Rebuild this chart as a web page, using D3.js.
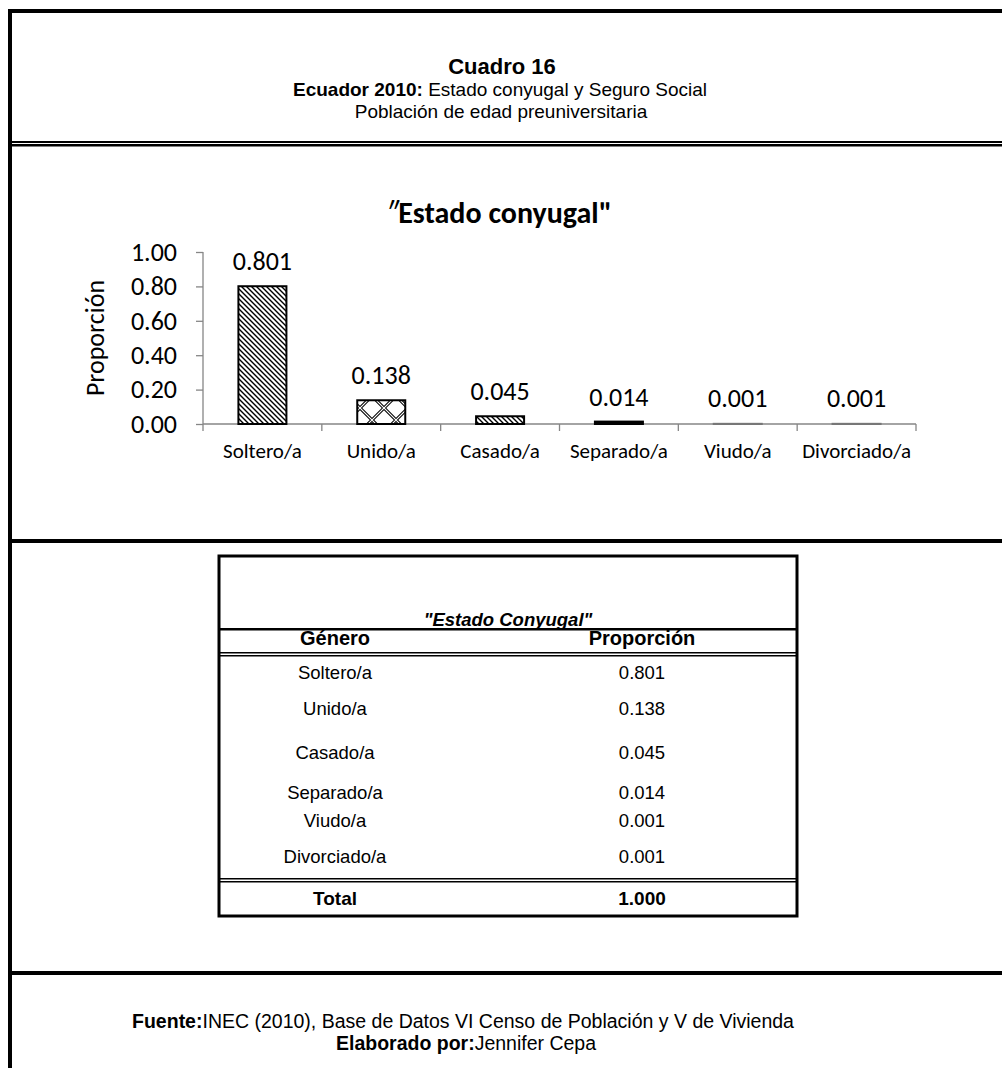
<!DOCTYPE html>
<html><head><meta charset="utf-8">
<script src="https://cdn.jsdelivr.net/npm/d3@7"></script>
<style>
html,body{margin:0;padding:0;background:#fff;}
svg{display:block;}
</style></head>
<body>
<svg id="c" width="1002" height="1068"></svg>
<script>
// ---- data ----
const categories = ["Soltero/a","Unido/a","Casado/a","Separado/a","Viudo/a","Divorciado/a"];
const proportions = [0.801,0.138,0.045,0.014,0.001,0.001];
const labelsText = ["0.801","0.138","0.045","0.014","0.001","0.001"];
const yTicks = [0,0.2,0.4,0.6,0.8,1.0];
const tableRowLabels = ["Soltero/a","Unido/a","Casado/a","Separado/a","Viudo/a","Divorciado/a"];
const tableRowValues = ["0.801","0.138","0.045","0.014","0.001","0.001"];
const tableTotal = ["Total","1.000"];
// styles (separate from data)
const barFills = ["url(#diag)","url(#lattice)","url(#diag)","#000","#000","#000"];

const svg = d3.select("#c");
const defs = svg.append("defs");
const pd = defs.append("pattern").attr("id","diag").attr("patternUnits","userSpaceOnUse")
  .attr("width",5).attr("height",5);
pd.append("rect").attr("width",5).attr("height",5).attr("fill","#fff");
pd.append("path").attr("d","M-1,-1L6,6M-1,4L1,6M4,-1L6,1").attr("stroke","#000").attr("stroke-width",1.4);
const pl = defs.append("pattern").attr("id","lattice").attr("patternUnits","userSpaceOnUse")
  .attr("width",24).attr("height",24).attr("x",0).attr("y",0);
pl.append("rect").attr("width",24).attr("height",24).attr("fill","#fff");
pl.append("path").attr("d","M0,0L24,24M24,0L0,24").attr("stroke","#000").attr("stroke-width",3.2);
pl.append("path").attr("d","M0,0L24,24M24,0L0,24").attr("stroke","#fff").attr("stroke-width",1.2);

const AR = "'Liberation Sans', Arial, sans-serif";
const CAL = "Carlito, Lato, sans-serif";

// ---- frame ----
svg.append("rect").attr("x",8).attr("y",9).attr("width",4).attr("height",1059).attr("fill","#000");
svg.append("rect").attr("x",8).attr("y",9).attr("width",994).attr("height",4).attr("fill","#000");
svg.append("rect").attr("x",11).attr("y",141).attr("width",991).attr("height",2).attr("fill","#000");
svg.append("rect").attr("x",11).attr("y",144).attr("width",991).attr("height",2.5).attr("fill","#000");
svg.append("rect").attr("x",8).attr("y",539).attr("width",994).attr("height",4).attr("fill","#000");
svg.append("rect").attr("x",8).attr("y",971).attr("width",994).attr("height",4).attr("fill","#000");

// ---- header ----
svg.append("text").attr("x",502).attr("y",74).attr("text-anchor","middle")
  .attr("font-family",AR).attr("font-weight","bold").attr("font-size",22).text("Cuadro 16");
const t2 = svg.append("text").attr("x",500).attr("y",96).attr("text-anchor","middle")
  .attr("font-family",AR).attr("font-size",19);
t2.append("tspan").attr("font-weight","bold").text("Ecuador 2010:");
t2.append("tspan").text(" Estado conyugal y Seguro Social");
svg.append("text").attr("x",501).attr("y",118).attr("text-anchor","middle")
  .attr("font-family",AR).attr("font-size",19).text("Población de edad preuniversitaria");

// ---- chart ----
const x = d3.scaleBand().domain(categories).range([203,916]).padding(0);
const y = d3.scaleLinear().domain([0,1]).range([424,252]);
const barW = x.bandwidth()*0.404;

const ct = svg.append("text").attr("x",499).attr("y",223).attr("text-anchor","middle")
  .attr("font-family",CAL).attr("font-size",30);
ct.append("tspan").attr("font-style","italic").text("″");
ct.append("tspan").attr("font-weight","bold").text("Estado conyugal\"");

// y axis
const yAxis = d3.axisLeft(y).tickValues(yTicks).tickFormat(d3.format(".2f")).tickSize(7).tickPadding(19);
const gy = svg.append("g").attr("transform","translate(203,0)").call(yAxis);
gy.selectAll("path,line").attr("stroke","#868686").attr("stroke-width",1.3);
gy.select(".domain").attr("d","M0,252V424");
gy.selectAll("text").attr("font-family",CAL).attr("font-size",26).attr("fill","#000");

// x axis
const gx = svg.append("g").attr("transform","translate(0,424)");
gx.append("line").attr("x1",203).attr("x2",916).attr("stroke","#868686").attr("stroke-width",1.3);
const bounds = categories.map(c=>x(c)).concat([x(categories[categories.length-1])+x.bandwidth()]);
gx.selectAll("line.tk").data(bounds).enter().append("line").attr("class","tk")
  .attr("x1",d=>d).attr("x2",d=>d).attr("y1",0).attr("y2",7).attr("stroke","#868686").attr("stroke-width",1.3);
gx.selectAll("text").data(categories).enter().append("text")
  .attr("x",d=>x(d)+x.bandwidth()/2).attr("y",34).attr("text-anchor","middle")
  .attr("font-family",CAL).attr("font-size",21).text(d=>d);

svg.append("text").attr("transform","translate(104,338) rotate(-90)").attr("text-anchor","middle")
  .attr("font-family",CAL).attr("font-size",26).text("Proporción");

// bars
svg.selectAll("rect.bar").data(categories).enter().append("rect").attr("class","bar")
  .attr("x",d=>x(d)+x.bandwidth()/2-barW/2)
  .attr("y",(d,i)=>y(proportions[i]))
  .attr("width",barW)
  .attr("height",(d,i)=>y(0)-y(proportions[i]))
  .attr("fill",(d,i)=>barFills[i])
  .attr("stroke",(d,i)=>proportions[i]<0.005?"#777":"#000")
  .attr("stroke-width",2);

// data labels
svg.selectAll("text.dl").data(categories).enter().append("text").attr("class","dl")
  .attr("x",d=>x(d)+x.bandwidth()/2)
  .attr("y",(d,i)=>Math.min(y(proportions[i])-16, 407))
  .attr("text-anchor","middle").attr("font-family",CAL).attr("font-size",26)
  .text((d,i)=>labelsText[i]);

// ---- table ----
const tL=219, tR=797, tT=556, tB=916;
svg.append("rect").attr("x",tL).attr("y",tT).attr("width",tR-tL).attr("height",tB-tT)
  .attr("fill","none").attr("stroke","#000").attr("stroke-width",3);
svg.append("text").attr("x",(tL+tR)/2).attr("y",626).attr("text-anchor","middle")
  .attr("font-family",AR).attr("font-size",18.5).attr("font-weight","bold").attr("font-style","italic")
  .text("\"Estado Conyugal\"");
svg.append("rect").attr("x",tL).attr("y",628).attr("width",tR-tL).attr("height",2.5).attr("fill","#000");
const colX=[335,642];
svg.append("text").attr("x",colX[0]).attr("y",645).attr("text-anchor","middle")
  .attr("font-family",AR).attr("font-size",20).attr("font-weight","bold").text("Género");
svg.append("text").attr("x",colX[1]).attr("y",645).attr("text-anchor","middle")
  .attr("font-family",AR).attr("font-size",20).attr("font-weight","bold").text("Proporción");
svg.append("rect").attr("x",tL).attr("y",652).attr("width",tR-tL).attr("height",1.5).attr("fill","#000");
svg.append("rect").attr("x",tL).attr("y",655).attr("width",tR-tL).attr("height",1.5).attr("fill","#000");
const rowY=[679,715,759,799,827,863];
tableRowLabels.forEach((lab,i)=>{
  svg.append("text").attr("x",colX[0]).attr("y",rowY[i]).attr("text-anchor","middle")
    .attr("font-family",AR).attr("font-size",18.5).text(lab);
  svg.append("text").attr("x",colX[1]).attr("y",rowY[i]).attr("text-anchor","middle")
    .attr("font-family",AR).attr("font-size",18.5).text(tableRowValues[i]);
});
svg.append("rect").attr("x",tL).attr("y",878).attr("width",tR-tL).attr("height",1.5).attr("fill","#000");
svg.append("rect").attr("x",tL).attr("y",881).attr("width",tR-tL).attr("height",1.5).attr("fill","#000");
svg.append("text").attr("x",colX[0]).attr("y",905).attr("text-anchor","middle")
  .attr("font-family",AR).attr("font-size",19).attr("font-weight","bold").text(tableTotal[0]);
svg.append("text").attr("x",colX[1]).attr("y",905).attr("text-anchor","middle")
  .attr("font-family",AR).attr("font-size",19).attr("font-weight","bold").text(tableTotal[1]);

// ---- footer ----
const f1 = svg.append("text").attr("x",463).attr("y",1028).attr("text-anchor","middle")
  .attr("font-family",AR).attr("font-size",19.5);
f1.append("tspan").attr("font-weight","bold").text("Fuente:");
f1.append("tspan").text("INEC (2010), Base de Datos VI Censo de Población y V de Vivienda");
const f2 = svg.append("text").attr("x",466).attr("y",1050).attr("text-anchor","middle")
  .attr("font-family",AR).attr("font-size",19.5);
f2.append("tspan").attr("font-weight","bold").text("Elaborado por:");
f2.append("tspan").text("Jennifer Cepa");
</script>
</body></html>
